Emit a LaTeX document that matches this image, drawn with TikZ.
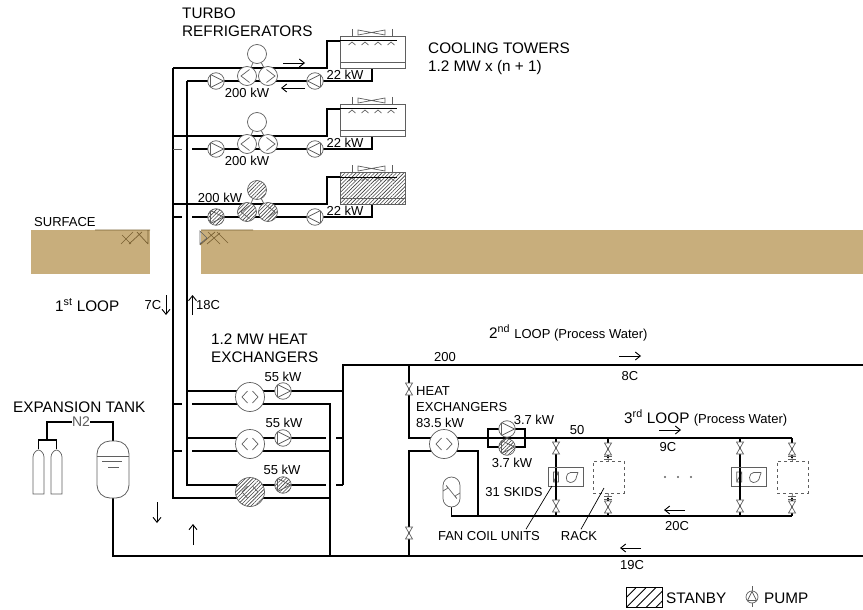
\documentclass[tikz,border=0pt]{standalone}
\usepackage{fontspec}
\setmainfont{Liberation Sans}
\usepackage{xcolor}
\usepackage{tikz}
\usetikzlibrary{arrows.meta, positioning, calc, patterns.meta}
\definecolor{mygrey}{RGB}{95,95,95}
\definecolor{myearth}{RGB}{200,174,124}
\definecolor{mymark}{RGB}{120,95,50}
\pgfdeclarelayer{pipes}
\pgfsetlayers{pipes,main}
\tikzset{
  pipe/.style={line width=1.9pt, color=black},
  fine/.style={line width=0.7pt, color=mygrey},
  flow/.style={-{Straight Barb[length=5pt,width=8pt]}, line width=0.9pt, color=black},
  leader/.style={line width=0.7pt, color=black},
  earth/.style={fill=myearth, draw=none},
  earthmark/.style={line width=0.7pt, color=mymark},
  bigtext/.style={inner sep=0pt, anchor=west, align=left, font=\fontsize{15.3}{18}\selectfont},
  midtext/.style={inner sep=0pt, font=\fontsize{13}{15}\selectfont, align=left},
  plainunit/.style={},
  standby/.style={preaction={fill=white}, pattern={Lines[angle=45,distance=2.6pt,line width=0.6pt]}, pattern color=black!75},
  pump/.style={circle, draw=mygrey, fill=white, minimum size=16.5pt, inner sep=0pt, line width=0.7pt},
  pumpright/.style={pump, path picture={\draw[fine, shift={(path picture bounding box.center)}] (-5.5,-6.5) -- (-5.5,6.5) -- (7.5,0) -- cycle;}},
  pumpleft/.style={pump, path picture={\draw[fine, shift={(path picture bounding box.center)}] (5.5,-6.5) -- (5.5,6.5) -- (-7.5,0) -- cycle;}},
  chiller/.style={circle, draw=mygrey, fill=white, minimum size=19pt, inner sep=0pt, line width=0.7pt},
  chillerleft/.style={chiller, path picture={\draw[fine, shift={(path picture bounding box.center)}] (2.5,-6.5) -- (-6,0) -- (2.5,6.5);}},
  chillerright/.style={chiller, path picture={\draw[fine, shift={(path picture bounding box.center)}] (-1.5,-6.5) -- (7,0) -- (-1.5,6.5);}},
  exchanger/.style={circle, draw=mygrey, fill=white, minimum size=29pt, inner sep=0pt, line width=0.7pt,
    path picture={\draw[fine, shift={(path picture bounding box.center)}] (-2.5,-6) -- (-8,0) -- (-2.5,6) (2.5,-6) -- (8,0) -- (2.5,6);}},
  tower/.style={rectangle, draw=mygrey, fill=white, minimum width=65pt, minimum height=32pt, inner sep=0pt, line width=0.7pt},
  valve/.style={rectangle, minimum width=8pt, minimum height=13pt, inner sep=0pt,
    path picture={\filldraw[fine, fill=white, shift={(path picture bounding box.center)}] (-3.5,-6) -- (3.5,-6) -- (-3.5,6) -- (3.5,6) -- cycle;}},
  flange/.style={rectangle, minimum width=9pt, minimum height=4pt, inner sep=0pt,
    path picture={\draw[fine, shift={(path picture bounding box.center)}] (-4,-1.3) -- (4,-1.3) (-4,1.3) -- (4,1.3);}},
  rack/.style={rectangle, draw=mygrey, dashed, fill=white, minimum width=31pt, minimum height=32pt, inner sep=0pt, line width=0.6pt},
  fancoil/.style={rectangle, draw=mygrey, fill=white, minimum width=35pt, minimum height=19pt, inner sep=0pt, line width=0.7pt,
    path picture={\draw[fine, shift={(path picture bounding box.center)}]
      (-12,-5) rectangle (-7,5) (-12,5) -- (-7,-5)
      (12.5,-4.5) -- (5,-4.5) .. controls (0,-4.5) and (-1,5.5) .. (4.5,5.5) .. controls (8,5.5) and (11,3) .. (11,-0.5) -- (12.5,-4.5);}},
  surgetank/.style={rectangle, rounded corners=8.5pt, draw=mygrey, fill=white, minimum width=17pt, minimum height=30pt, inner sep=0pt, line width=0.7pt,
    path picture={\draw[fine, shift={(path picture bounding box.center)}] (-8.5,-1) .. controls (-5,-4) and (-2,-2.5) .. (0,0) .. controls (2,2.5) and (5,4) .. (8.5,1);}},
  exptank/.style={rectangle, rounded corners=13pt, draw=mygrey, fill=white, minimum width=32pt, minimum height=57pt, inner sep=0pt, line width=0.8pt},
  bottle/.style={rectangle, minimum width=12.5pt, minimum height=45pt, inner sep=0pt,
    path picture={\filldraw[fine, fill=white, shift={(path picture bounding box.center)}] (-5.5,22) -- (-5.5,-15) .. controls (-5.5,-19) and (-2,-22) .. (0,-22) .. controls (2,-22) and (5.5,-19) .. (5.5,-15) -- (5.5,22) -- cycle;}}
}
\begin{document}
\begin{tikzpicture}[x=1pt, y=-1pt]
  \useasboundingbox (0,0) rectangle (863,610);

  \fill[earth] (31,230) rectangle (150,274);
  \fill[earth] (201,230) rectangle (863,274);
  \draw[earthmark] (95,230) -- (150,230) (121,244) -- (133,232) (129,244) -- (142,232) (122,235) -- (131,244) (137,232) -- (148,244) (148,230) -- (148,244);
  \draw[earthmark] (201,230) -- (253,230) (200,245) -- (215,232) (207,244) -- (220,233) (208,232) -- (220,244) (217,232) -- (228,243);
  \draw[fine] (200,231) -- (200,244) -- (207,238) -- cycle;

  \foreach \u/\dy/\st in {1/0/plainunit, 2/68/plainunit, 3/136/standby} {
    \node[tower, \st] (tower\u) at (372.5,52+\dy) {};
    \node[chiller, \st] (chilltop\u) at (257,54+\dy) {};
    \node[chillerleft, \st] (chillleft\u) at (247,76+\dy) {};
    \node[chillerright, \st] (chillright\u) at (268,76+\dy) {};
    \node[pumpright, \st] (evappump\u) at (216,81+\dy) {};
    \node[pumpleft] (condpump\u) at (315,81+\dy) {};
    \coordinate (hotrow\u) at (173,68+\dy);
    \coordinate (towerin\u) at (340,41+\dy);
    \coordinate (towerout\u) at (372,68+\dy);
    \coordinate (coldstub\u) at (173,81+\dy);
    \draw[fine] (352,29+\dy) -- (352,36+\dy) (392,29+\dy) -- (392,36+\dy);
    \draw[fine] (358,30+\dy) -- (385,35+\dy) -- (385,30+\dy) -- (358,35+\dy) -- cycle;
    \draw[fine] (340,62+\dy) -- (405,62+\dy);
    \draw[line width=1pt] (towerin\u) -- ++(57,0);
    \foreach \cx in {352,365,378,391}
      \draw[fine] (\cx-3.5,45+\dy) -- (\cx,42+\dy) -- (\cx+3.5,45+\dy);
    \begin{pgfonlayer}{pipes}
      \draw[pipe] (hotrow\u) -- ++(154,0) |- (towerin\u);
      \draw[fine] (chilltop\u) -- (chillleft\u) (chilltop\u) -- (chillright\u);
    \end{pgfonlayer}
  }
  \node[midtext] (ratea) at (247,93) {200 kW};
  \node[midtext] (rateb) at (247,161) {200 kW};
  \node[midtext] (ratec) at (220,198) {200 kW};
  \node[midtext] (towera) at (345,75) {22 kW};
  \node[midtext] (towerb) at (345,143) {22 kW};
  \node[midtext] (towerc) at (345,211) {22 kW};

  \coordinate (coldrowa) at (187,81);
  \coordinate (coldrowb) at (192,149);
  \coordinate (coldrowc) at (192,217);
  \coordinate (hopa) at (182,149);
  \coordinate (hopb) at (182,217);
  \coordinate (risera) at (173,68);
  \coordinate (riserb) at (187,81);
  \coordinate (hxreturn) at (330,498);
  \coordinate (hxsupply) at (326,485);
  \coordinate (loopone) at (330,556);
  \coordinate (looptwo) at (343,365);
  \coordinate (loopend) at (863,365);
  \coordinate (bottomend) at (863,556);

  \node[exchanger] (hxa) at (250,397) {};
  \node[exchanger] (hxb) at (250,444) {};
  \node[exchanger, standby] (hxc) at (250,492) {};
  \node[pumpright] (hxpumpa) at (283,391) {};
  \node[pumpright] (hxpumpb) at (283,438) {};
  \node[pumpright, standby] (hxpumpc) at (283,485) {};
  \node[midtext] (hxratea) at (283,377) {55 kW};
  \node[midtext] (hxrateb) at (284,423) {55 kW};
  \node[midtext] (hxratec) at (282,470) {55 kW};

  \node[exchanger] (procx) at (444,444) {};
  \node[pumpright] (procpumpa) at (507,429) {};
  \node[pumpright, standby] (procpumpb) at (507,447) {};
  \node[surgetank] (surge) at (451.5,492) {};
  \node[fancoil] (fcua) at (565.5,477) {};
  \node[fancoil] (fcub) at (748.7,477) {};
  \node[rack] (racka) at (608.5,477) {};
  \node[rack] (rackb) at (792.5,477) {};

  \foreach \n/\x in {a/608, b/792} {
    \node[flange] (flangetop\n) at (\x,458) {};
    \node[flange] (flangebot\n) at (\x,498) {};
    \coordinate (racktop\n) at (\x,438);
    \coordinate (rackbot\n) at (\x,516);
    \begin{pgfonlayer}{pipes}
      \draw[pipe] (racktop\n) -- (flangetop\n.center);
      \draw[pipe] (flangebot\n.center) -- (rackbot\n);
    \end{pgfonlayer}
    \draw[fine] (flangetop\n.center) -- (rack\n.north);
    \draw[fine] (flangebot\n.center) -- (rack\n.south);
  }
  \foreach \n/\x in {a/556, b/740} {
    \coordinate (fcutop\n) at (\x,438);
    \coordinate (fcubot\n) at (\x,516);
    \begin{pgfonlayer}{pipes}
      \draw[pipe] (fcutop\n) -- (fcubot\n);
    \end{pgfonlayer}
    \draw[line width=1.4pt] (\x,468) -- (\x,487);
  }
  \foreach \n/\x/\y in {a/409/389, b/409/533, c/556/448, d/556/506, e/608/449, f/608/507, g/740/448, h/740/506, i/792/449, j/792/507}
    \node[valve] (valve\n) at (\x,\y) {};

  \node[exptank] (tank) at (113,469.5) {};
  \node[bottle] (bottlea) at (38.5,472) {};
  \node[bottle] (bottleb) at (56.5,472) {};
  \node[inner sep=0pt, font=\fontsize{14}{16}\selectfont, text=mygrey] (gas) at (81,422) {N2};
  \draw[fine] (tank.west |- 0,456) -- (tank.east |- 0,456);
  \draw[fine] (102,461) -- (122,461) (108,467) -- (119,467);

  \coordinate (gasbend) at (47,422);
  \coordinate (gassplit) at (47,440);
  \coordinate (tankbend) at (113,422);
  \coordinate (hxa2) at (187,391);
  \coordinate (hxb2) at (187,438);
  \coordinate (hxaback) at (192,404);
  \coordinate (hxbback) at (192,451);
  \coordinate (hopc) at (182,404);
  \coordinate (hopd) at (182,451);
  \coordinate (stubc) at (173,404);
  \coordinate (stubd) at (173,451);
  \coordinate (hopend) at (326,438);
  \coordinate (hopstart) at (336,438);
  \coordinate (hopstartb) at (336,485);
  \coordinate (secondrow) at (343,391);
  \coordinate (secondb) at (343,438);
  \coordinate (secondc) at (343,485);
  \coordinate (procin) at (409,365);
  \coordinate (procrow) at (409,438);
  \coordinate (bypassa) at (488,429);
  \coordinate (bypassb) at (488,447);
  \coordinate (bypassc) at (525,429);
  \coordinate (bypassd) at (525,447);
  \coordinate (loopthree) at (792,438);
  \coordinate (procback) at (409,451);
  \coordinate (procfoot) at (409,556);
  \coordinate (backbend) at (478,451);
  \coordinate (backrow) at (478,516);
  \coordinate (surgefoot) at (451.5,516);
  \coordinate (loopback) at (792,516);

  \begin{pgfonlayer}{pipes}
    \draw[pipe] (risera) |- (hxreturn);
    \draw[pipe] (riserb) |- (hxsupply);
    \draw[pipe] (coldrowa) -| (towerout1);
    \draw[pipe] (coldrowb) -| (towerout2);
    \draw[pipe] (coldrowc) -| (towerout3);
    \draw[fine] (coldstub2) -- (hopa);
    \draw[pipe] (coldstub3) -- (hopb);
    \draw[pipe] (hxa2) -- (secondrow);
    \draw[pipe] (hxb2) -- (hopend);
    \draw[pipe] (hopstart) -- (secondb);
    \draw[pipe] (hopstartb) -- (secondc);
    \draw[pipe] (stubc) -- (hopc);
    \draw[pipe] (stubd) -- (hopd);
    \draw[pipe] (hxaback) -| (loopone);
    \draw[pipe] (hxbback) -- (hxbback -| loopone);
    \draw[pipe] (secondc) |- (loopend);
    \draw[pipe] (tank.south) |- (bottomend);
    \draw[pipe] (gas.west) -- (gasbend) -- (gassplit);
    \draw[pipe] (gas.east) -- (tankbend) -- (tank.north);
    \draw[pipe] (bottlea.north) |- (gassplit) -| (bottleb.north);
    \draw[pipe] (procin) -- (procrow) -- (loopthree);
    \draw[pipe] (bypassa |- procrow) -- (bypassa) -- (bypassc) -- (bypassc |- procrow);
    \draw[pipe] (bypassa |- procrow) -- (bypassb) -- (bypassd) -- (bypassc |- procrow);
    \draw[pipe] (procfoot) -- (procback) -- (backbend) -- (backrow);
    \draw[pipe] (surge.south) -- (surgefoot) -- (loopback);
  \end{pgfonlayer}

  \draw[flow] (283,63) -- (305,63);
  \draw[flow] (305,88) -- (281,88);
  \draw[flow] (166,295) -- (166,315);
  \draw[flow] (192.5,315) -- (192.5,295);
  \draw[flow] (157,502) -- (157,523);
  \draw[flow] (193,545) -- (193,524);
  \draw[flow] (619,356) -- (641,356);
  \draw[flow] (659,430) -- (681,430);
  \draw[flow] (685,510) -- (664,510);
  \draw[flow] (641,548) -- (620,548);

  \node[bigtext] (turbo) at (182,22) {TURBO\\REFRIGERATORS};
  \node[bigtext] (coolingtowers) at (428,59) {COOLING TOWERS\\1.2 MW x (n + 1)};
  \node[midtext, anchor=west] (surface) at (34,222) {SURFACE};
  \node[bigtext] (firstloop) at (55,305) {1\textsuperscript{st} LOOP};
  \node[midtext] (seven) at (153,305) {7C};
  \node[midtext] (eighteen) at (208,305) {18C};
  \node[bigtext] (hxtitle) at (211,348) {1.2 MW HEAT\\EXCHANGERS};
  \node[bigtext] (secondloop) at (489,333) {2\textsuperscript{nd} {\fontsize{13}{15}\selectfont LOOP (Process Water)}};
  \node[midtext] (twohundred) at (445,357) {200};
  \node[midtext] (eightc) at (630,376) {8C};
  \node[bigtext] (exptitle) at (13,407) {EXPANSION TANK};
  \node[midtext, anchor=west] (proctitle) at (416,407) {HEAT\\[1pt]EXCHANGERS\\[1pt]83.5 kW};
  \node[midtext] (procratea) at (534,420) {3.7 kW};
  \node[midtext] (procrateb) at (512,463) {3.7 kW};
  \node[midtext] (fifty) at (577,430) {50};
  \node[bigtext] (thirdloop) at (624,418) {3\textsuperscript{rd} LOOP {\fontsize{13}{15}\selectfont(Process Water)}};
  \node[midtext] (ninec) at (668,447) {9C};
  \node[midtext] (skids) at (514,492) {31 SKIDS};
  \node[midtext] (fclabel) at (489,536) {FAN COIL UNITS};
  \node[midtext] (racklabel) at (579,536) {RACK};
  \node[midtext] (twentyc) at (677,526) {20C};
  \node[midtext] (nineteenc) at (632,565) {19C};
  \draw[leader] (fclabel.north) ++(37,-2) coordinate (fcfoot) -- (552,486);
  \draw[leader] (racklabel.north) ++(2,-2) coordinate (rackfoot) -- (604,488);
  \foreach \n/\x in {a/665, b/678, c/691}
    \fill[mygrey] (\x,477) circle (1.2);

  \node[rectangle, draw=black, minimum width=36pt, minimum height=20pt, inner sep=0pt, line width=0.9pt, pattern={Lines[angle=45,distance=7pt,line width=0.9pt]}] (legendbox) at (644,597.5) {};
  \node[bigtext] (legendstanby) at (666,598) {STANBY};
  \node[circle, draw=mygrey, minimum size=12pt, inner sep=0pt, line width=0.7pt, path picture={\draw[fine, shift={(path picture bounding box.center)}] (-4.5,3.5) -- (4.5,3.5) -- (0,-5.5) -- cycle;}] (legendpump) at (752,597) {};
  \draw[fine] (legendpump.north) -- ++(0,-5) (legendpump.south) -- ++(0,4);
  \node[bigtext] (legendpumptext) at (764,598) {PUMP};
\end{tikzpicture}
\end{document}
